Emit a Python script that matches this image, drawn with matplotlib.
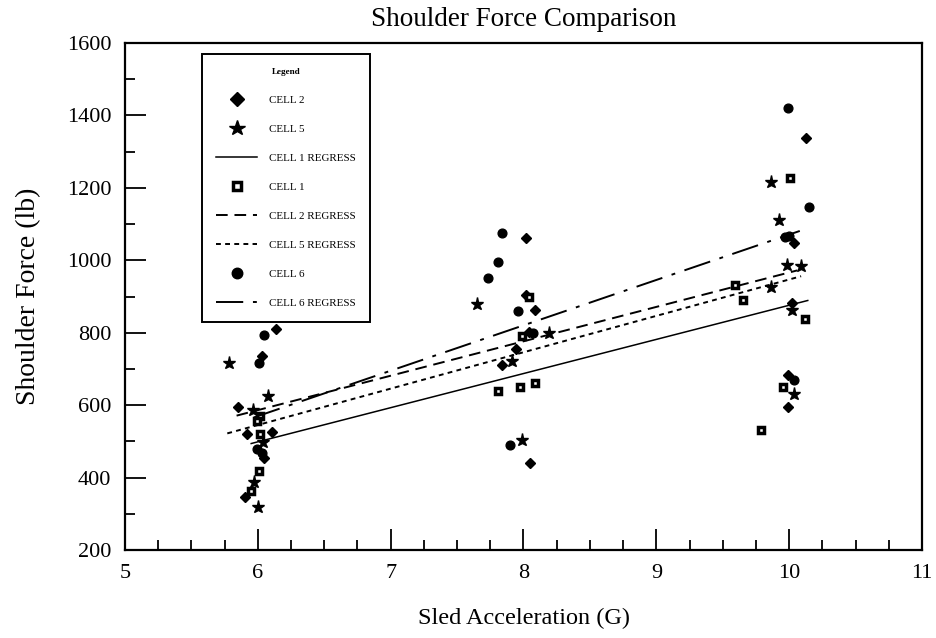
import matplotlib
matplotlib.use("Agg")
import matplotlib.pyplot as plt

# ---------------- data ----------------
title = "Shoulder Force Comparison"
xlabel = "Sled Acceleration (G)"
ylabel = "Shoulder Force (lb)"

cell1_x = [6.02, 5.99, 6.02, 6.01, 5.95,
           8.04, 7.99, 7.81, 7.97, 8.09,
           10.01, 9.59, 9.65, 10.12, 9.95, 9.79]
cell1_y = [569, 557, 521, 418, 364,
           900, 790, 640, 649, 660,
           1227, 933, 889, 838, 650, 531]

cell2_x = [6.14, 6.03, 5.85, 5.92, 6.11, 6.05, 5.90,
           8.02, 8.02, 8.09, 8.04, 7.94, 7.84, 8.05,
           10.13, 10.04, 10.02, 9.99, 9.99]
cell2_y = [810, 736, 596, 520, 527, 455, 346,
           1062, 903, 863, 801, 755, 711, 440,
           1338, 1047, 883, 684, 594]

cell5_x = [5.78, 6.08, 5.96, 6.04, 5.97, 6.00,
           7.65, 8.19, 7.91, 7.99,
           9.86, 9.92, 9.98, 10.09, 9.86, 10.02, 10.04]
cell5_y = [715, 626, 587, 497, 387, 320,
           880, 798, 723, 505,
           1216, 1112, 988, 983, 926, 863, 631]

cell6_x = [6.05, 6.01, 5.99, 6.03,
           7.84, 7.81, 7.73, 7.96, 8.07, 7.90,
           9.99, 10.15, 9.97, 10.00, 10.04]
cell6_y = [795, 716, 478, 467,
           1075, 995, 952, 859, 798, 490,
           1421, 1147, 1064, 1066, 669]

# regression line end points
reg1_x = [5.95, 10.14]
reg1_y = [494, 889]
reg2_x = [5.84, 10.06]
reg2_y = [571, 972]
reg5_x = [5.77, 10.09]
reg5_y = [522, 956]
reg6_x = [5.97, 10.08]
reg6_y = [566, 1081]

xticks = [5, 6, 7, 8, 9, 10, 11]
yticks = [200, 400, 600, 800, 1000, 1200, 1400, 1600]

# ---------------- style ----------------
plt.rcParams['font.family'] = ['Liberation Serif', 'DejaVu Serif']
W, H = 936, 638
fig = plt.figure(figsize=(W / 100, H / 100), dpi=100)
ax = fig.add_axes([125 / W, 1 - 550 / H, (922 - 125) / W, (550 - 43) / H])

k = 'black'
lw_reg = 1.4
h_c2, = ax.plot(cell2_x, cell2_y, linestyle='none', marker='D', ms=5.6, color=k, label='CELL 2')
h_c5, = ax.plot(cell5_x, cell5_y, linestyle='none', marker='*', ms=9.5, color=k, label='CELL 5')
h_r1, = ax.plot(reg1_x, reg1_y, color=k, lw=1.1, label='CELL 1 REGRESS')
h_c1, = ax.plot(cell1_x, cell1_y, linestyle='none', marker='s', ms=4.4, mfc='white', mec=k, mew=2.5, label='CELL 1')
h_r2, = ax.plot(reg2_x, reg2_y, color=k, lw=lw_reg, dashes=(6, 3.5), label='CELL 2 REGRESS')
h_r5, = ax.plot(reg5_x, reg5_y, color=k, lw=lw_reg, dashes=(2.5, 2.2), label='CELL 5 REGRESS')
h_c6, = ax.plot(cell6_x, cell6_y, linestyle='none', marker='o', ms=6.3, color=k, label='CELL 6')
h_r6, = ax.plot(reg6_x, reg6_y, color=k, lw=lw_reg, dashes=(14, 5, 2, 5), label='CELL 6 REGRESS')

ax.set_xlim(5, 11)
ax.set_ylim(200, 1600)
ax.set_xticks(xticks)
ax.set_yticks(yticks)
ax.set_xticks([5 + 0.25 * i for i in range(25)], minor=True)
ax.set_yticks(list(range(200, 1601, 100)), minor=True)
ax.tick_params(axis='both', which='both', direction='in', top=False, right=False,
               labelsize=16, color=k, width=1.3)
ax.tick_params(axis='both', which='major', length=15, pad=10)
ax.tick_params(axis='both', which='minor', length=7.5)
for s in ax.spines.values():
    s.set_linewidth(1.6)
    s.set_color(k)

ax.set_title(title, fontsize=19.5, pad=12)
ax.set_xlabel(xlabel, fontsize=17.5, labelpad=18)
ax.set_ylabel(ylabel, fontsize=20, labelpad=18)

leg = ax.legend(handles=[h_c2, h_c5, h_r1, h_c1, h_r2, h_r5, h_c6, h_r6],
                title='Legend', loc='upper left',
                bbox_to_anchor=(202 / W, 1 - 54 / H), bbox_transform=fig.transFigure,
                borderaxespad=0, fancybox=False, framealpha=1, edgecolor=k,
                prop={'size': 7.9}, title_fontproperties={'size': 6.6, 'weight': 'bold'},
                handlelength=3.7, handletextpad=1.1, labelspacing=1.76,
                borderpad=1.3, numpoints=1, markerscale=1.2)
leg.get_frame().set_linewidth(1.4)

fig.savefig('out.png', dpi=100)
